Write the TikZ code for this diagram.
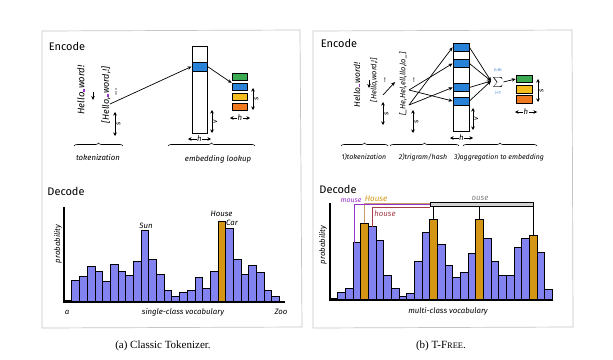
\documentclass[tikz,border=0pt]{standalone}
\usepackage{fontspec}
\setmainfont{Liberation Serif}
\newfontfamily\hand{Fira Sans}
\usetikzlibrary{arrows.meta,decorations.pathreplacing,calc}
\definecolor{barblue}{RGB}{130,130,240}
\definecolor{bargold}{RGB}{212,150,20}
\definecolor{cellblue}{RGB}{40,130,215}
\definecolor{stgreen}{RGB}{60,170,80}
\definecolor{styellow}{RGB}{245,190,30}
\definecolor{storange}{RGB}{240,120,30}
\definecolor{mpurple}{RGB}{150,50,200}
\definecolor{mmaroon}{RGB}{165,60,70}
\definecolor{mtan}{RGB}{200,160,110}
\definecolor{sumblue}{RGB}{40,120,210}
\newcommand{\spmark}{{\color{mpurple}\rule[-0.3pt]{3.5pt}{1.8pt}}}
\begin{document}
\begin{tikzpicture}[x=1pt,y=-1pt,
  lbl/.style={font=\hand\itshape\fontsize{7.8}{8.5}\selectfont, inner sep=0},
  rlbl/.style={font=\hand\itshape\fontsize{7}{8}\selectfont, inner sep=1.2pt, rotate=90, anchor=north},
  seq/.style={font=\hand\itshape\fontsize{8}{9}\selectfont, inner sep=0, rotate=90},
  ttl/.style={font=\hand\fontsize{11}{12}\selectfont, inner sep=0},
  frame/.style={draw=gray!45, line width=0.7pt},
  box/.style={draw=black, line width=0.9pt, inner sep=0, minimum width=15pt},
  stk/.style={draw=black, line width=0.7pt, inner sep=0, minimum width=15pt, minimum height=7.5pt},
  bar/.style={draw=black, line width=1pt, fill=barblue},
  gbar/.style={draw=black, line width=1pt, fill=bargold},
  arr/.style={-{Stealth[length=4pt,width=3.5pt]}, line width=0.7pt},
  dim/.style={{Stealth[length=3.5pt,width=3.5pt]}-{Stealth[length=3.5pt,width=3.5pt]}, line width=0.7pt},
  brc/.style={decorate, decoration={brace, amplitude=3pt}, line width=0.6pt},
  axis/.style={line width=1.2pt}]
\useasboundingbox (0,0) rectangle (613,359);
\fill[white] (0,0) rectangle (613,359);
% frames
\draw[frame] (42,31) -- (300,30) -- (302,327) -- (42,328) -- cycle;
\draw[frame] (313,31) -- (572,30) -- (573,327) -- (313,328) -- cycle;
% ================= LEFT ENCODE
\node[ttl] (encA) at (67,46) {Encode};
\node[seq, font=\hand\itshape\fontsize{9.5}{10}\selectfont] (helloA) at (81,90) {Hello\spmark word!};
\coordinate (ta1) at (93,92); \coordinate (ta2) at (93,100);
\draw[arr] (ta1) -- (ta2);
\node[seq, font=\hand\itshape\fontsize{9}{10}\selectfont] (tokA) at (106,95) {[Hello,\spmark word,!]};
\node[seq, font=\hand\fontsize{9}{10}\selectfont] (dotsA) at (116,92) {...};
\coordinate (srcA) at (110,104);
\coordinate (sA1) at (115,112); \coordinate (sA2) at (115,136);
\draw[dim] (sA1) -- (sA2) node[midway, rlbl] {s};
\node[box, minimum height=87pt] (colA) at (199.5,89.5) {};
\node[box, minimum height=9pt, fill=cellblue] (cellA) at (199.5,66.5) {};
\draw[arr] (srcA) -- (cellA.west);
\coordinate (hA1) at (188,139); \coordinate (hA2) at (211,139);
\draw[dim] (hA1) -- (hA2) node[midway, fill=white, lbl, inner sep=0.5pt] {h};
\coordinate (vA1) at (212,110); \coordinate (vA2) at (212,133);
\draw[dim] (vA1) -- (vA2) node[midway, rlbl] {v};
\node[stk, fill=stgreen] (stA1) at (239.5,77) {};
\node[stk, fill=cellblue] (stA2) at (239.5,87) {};
\node[stk, fill=styellow] (stA3) at (239.5,97) {};
\node[stk, fill=storange] (stA4) at (239.5,107) {};
\draw[arr] (cellA.east) -- (stA2.north west);
\coordinate (sA3) at (253,88); \coordinate (sA4) at (253,110);
\draw[dim] (sA3) -- (sA4) node[midway, rlbl] {s};
\coordinate (hA3) at (230,118); \coordinate (hA4) at (250,118);
\draw[dim] (hA3) -- (hA4) node[midway, fill=white, lbl, inner sep=0.5pt] {h};
\coordinate (bA1) at (74,146); \coordinate (bA2) at (123,146);
\draw[brc] (bA1) -- (bA2);
\node[lbl] (tokLbl) at (98,158) {tokenization};
\coordinate (bA3) at (168,146); \coordinate (bA4) at (255,146);
\draw[brc] (bA3) -- (bA4);
\node[lbl] (embLbl) at (218,159) {embedding lookup};
% ================= LEFT DECODE
\node[ttl] (decA) at (66,191) {Decode};
\node[lbl, rotate=90] (probA) at (58,244) {probability};
\foreach \h [count=\i] in {1.7,21,25.7,35,30,20.7,37,30,26.3,40.7,71.3,42.7,27.3,11.7,5.7,9,11.3,24.7,13.3,30,80.7,73,42.7,27.3,36.7,29.3,11.7,5.7} {
  \pgfmathsetmacro\xa{64.3+(\i-1)*7.69}
  \draw[bar] (\xa,301.7) rectangle ++(7.69,-\h);
  \coordinate (A\i) at (\xa+3.845,301.7-\h);
}
\draw[gbar] (64.3+20*7.69,301.7) rectangle ++(7.69,-80.7);
\coordinate (axA0) at (64,207); \coordinate (axA1) at (64,302); \coordinate (axA2) at (285,302);
\draw[axis] (axA0) -- (axA1) -- (axA2);
\node[lbl, anchor=south] (sun) at ($(A11)+(1,-1.5)$) {Sun};
\node[lbl] (houseA) at (221.5,214) {House};
\node[lbl] (car) at (232,222.5) {Car};
\node[lbl] (aLbl) at (67,312) {a};
\node[lbl] (scv) at (183,312) {single-class vocabulary};
\node[lbl] (zoo) at (281,312) {Zoo};
% ================= RIGHT ENCODE
\node[ttl] (encB) at (339,43) {Encode};
\node[seq, font=\hand\itshape\fontsize{8.5}{9}\selectfont] (helloB) at (357,85) {Hello\spmark word!};
\coordinate (tb1) at (369,80); \coordinate (tb2) at (369,88);
\draw[arr] (tb1) -- (tb2);
\node[seq, font=\hand\itshape\fontsize{7.5}{8}\selectfont] (tokB) at (374,80) {[Hello,word,!]};
\node[seq, font=\hand\fontsize{8}{9}\selectfont] (dotsB) at (385,80) {...};
\coordinate (tb3) at (383,95); \coordinate (tb4) at (395,82);
\draw[arr] (tb3) -- (tb4);
\coordinate (sB1) at (383,102); \coordinate (sB2) at (383,125);
\draw[dim] (sB1) -- (sB2) node[midway, rlbl] {s};
\node[seq, font=\hand\itshape\fontsize{7.5}{8}\selectfont] (triB) at (403,84) {[\_He,Hel,ell,llo,lo\_]};
\node[seq, font=\hand\fontsize{8}{9}\selectfont] (dotsB2) at (414,80) {...};
\coordinate (sB3) at (413,110); \coordinate (sB4) at (413,133);
\draw[dim] (sB3) -- (sB4) node[midway, rlbl] {s};
\coordinate (P1) at (409,90); \coordinate (P2) at (409,105);
\node[box, minimum width=16pt, minimum height=88pt] (colB) at (461,87) {};
\node[box, minimum width=16pt, minimum height=8.5pt, fill=cellblue] (c1) at (461,47.3) {};
\node[box, minimum width=16pt, minimum height=8pt, fill=cellblue] (c2) at (461,63.5) {};
\node[box, minimum width=16pt, minimum height=8pt, fill=cellblue] (c3) at (461,87.5) {};
\node[box, minimum width=16pt, minimum height=8pt, fill=cellblue] (c4) at (461,101) {};
\draw[arr] (P2) -- (c1.west);
\draw[arr] (P1) -- (c2.west);
\draw[arr] (P2) -- (c3.west);
\draw[arr] (P1) -- (c4.west);
\node[inner sep=0, font=\fontsize{12}{12}\selectfont] (sig) at (498,82) {$\sum$};
\node[inner sep=0, font=\hand\fontsize{4.5}{5}\selectfont, text=sumblue] (sigT) at (498,70.5) {n·m};
\node[inner sep=0, font=\hand\fontsize{4.5}{5}\selectfont, text=sumblue] (sigB) at (498,93) {i=1};
\coordinate (sigIn) at (491,81);
\foreach \c in {c1,c2,c3,c4} \draw[arr] (\c.east) -- (sigIn);
\node[stk, minimum width=16pt, fill=stgreen] (stB1) at (524,79) {};
\node[stk, minimum width=16pt, fill=styellow] (stB2) at (524,89.5) {};
\node[stk, minimum width=16pt, fill=storange] (stB3) at (524,99.5) {};
\draw[arr] (sig.east) -- (stB1.west);
\coordinate (sB5) at (538,79); \coordinate (sB6) at (538,102);
\draw[dim] (sB5) -- (sB6) node[midway, rlbl] {s};
\coordinate (hB1) at (515,112); \coordinate (hB2) at (537,112);
\draw[dim] (hB1) -- (hB2) node[midway, fill=white, lbl, inner sep=0.5pt] {h};
\coordinate (vB1) at (473,108); \coordinate (vB2) at (473,130);
\draw[dim] (vB1) -- (vB2) node[midway, rlbl] {v};
\coordinate (hB3) at (450,138); \coordinate (hB4) at (473,138);
\draw[dim] (hB3) -- (hB4) node[midway, fill=white, lbl, inner sep=0.5pt] {h};
\coordinate (bB1) at (341,146); \coordinate (bB2) at (388,146);
\coordinate (bB3) at (390,146); \coordinate (bB4) at (459,146);
\coordinate (bB5) at (463,146); \coordinate (bB6) at (537,146);
\draw[brc] (bB1) -- (bB2);
\draw[brc] (bB3) -- (bB4);
\draw[brc] (bB5) -- (bB6);
\node[lbl, font=\hand\itshape\fontsize{7}{8}\selectfont] (l1) at (364,157) {1)tokenization};
\node[lbl, font=\hand\itshape\fontsize{7}{8}\selectfont] (l2) at (423,157) {2)trigram/hash};
\node[lbl, font=\hand\itshape\fontsize{7}{8}\selectfont] (l3) at (499,157) {3)aggregation to embedding};
% ================= RIGHT DECODE
\node[ttl] (decB) at (338,189) {Decode};
\node[lbl, rotate=90] (probB) at (323,245) {probability};
\foreach \h [count=\i] in {1.7,7.7,11.7,57.3,76.7,73.3,60,24.3,11.7,4,6.7,38.3,67.7,80.7,55.3,34.3,22.3,27.7,46.7,80.7,61.7,38.3,25,25,52.7,61.7,65,47.3,10.7} {
  \pgfmathsetmacro\xa{330+(\i-1)*7.67}
  \draw[bar] (\xa,300) rectangle ++(7.67,-\h);
  \coordinate (B\i) at (\xa+3.835,300-\h);
}
\draw[gbar] (330+4*7.67,300) rectangle ++(7.67,-76.7);
\draw[gbar] (330+13*7.67,300) rectangle ++(7.67,-80.7);
\draw[gbar] (330+19*7.67,300) rectangle ++(7.67,-80.7);
\draw[gbar] (330+26*7.67,300) rectangle ++(7.67,-65);
\coordinate (axB0) at (330,203); \coordinate (axB1) at (330,300); \coordinate (axB2) at (553,300);
\draw[axis] (axB0) -- (axB1) -- (axB2);
\node[draw=black, fill=gray!35, line width=0.8pt, inner sep=0, minimum width=103pt, minimum height=4.5pt] (ouse) at (481.5,204.5) {};
\node[lbl, text=gray] (ouseL) at (480,198) {ouse};
\foreach \k in {14,20,27} \draw[line width=0.7pt] (B\k |- ouse.south) -- (B\k);
\draw[mtan, line width=0.8pt] (B5) |- ($(ouse.west)+(0,-1.5)$);
\draw[mpurple, line width=0.8pt] ($(B4)+(-2,0)$) |- ($(ouse.west)+(0,0.3)$);
\draw[mmaroon, line width=0.8pt] (B6) |- ($(ouse.west)+(0,2.5)$);
\node[lbl, text=mpurple, font=\hand\itshape\fontsize{7}{8}\selectfont] (mouse) at (351,201) {mouse};
\node[lbl, text=bargold, font=\hand\itshape\fontsize{8}{9}\selectfont] (houseB) at (376,199) {House};
\node[lbl, text=mmaroon] (houseb) at (385,214) {house};
\node[lbl] (mcv) at (448,311) {multi-class vocabulary};
% captions
\node[font=\fontsize{11}{12}\selectfont, inner sep=0] (capA) at (163,346) {(a) Classic Tokenizer.};
\node[font=\fontsize{11}{12}\selectfont, inner sep=0] (capB) at (441,346) {(b) T-F{\fontsize{8.5}{9}\selectfont REE}.};
\end{tikzpicture}
\end{document}
